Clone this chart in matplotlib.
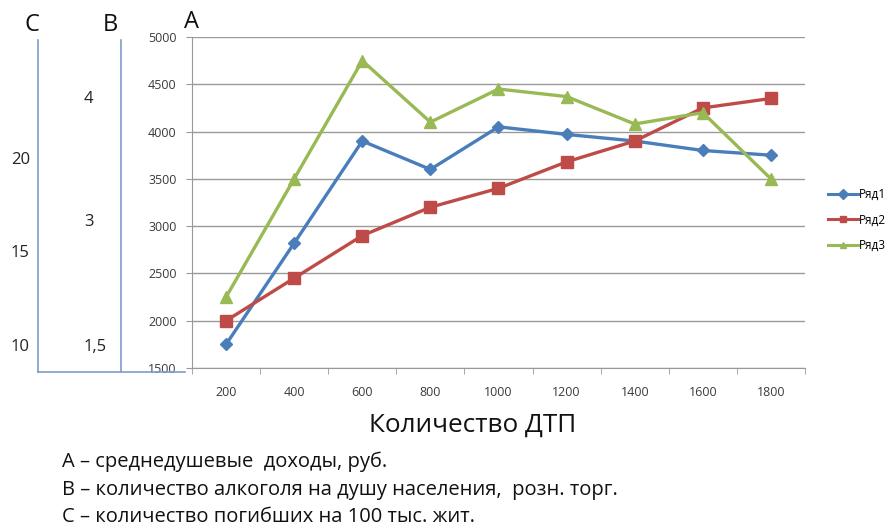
import matplotlib.pyplot as plt
from matplotlib.lines import Line2D

plt.rcParams['font.family'] = ['Open Sans', 'DejaVu Sans']

# data
categories = ['200', '400', '600', '800', '1000', '1200', '1400', '1600', '1800']
series_names = ['Ряд1', 'Ряд2', 'Ряд3']
row1 = [1750, 2820, 3900, 3600, 4050, 3970, 3900, 3800, 3750]
row2 = [2000, 2450, 2900, 3200, 3400, 3680, 3900, 4250, 4350]
row3 = [2250, 3500, 4750, 4100, 4450, 4370, 4080, 4200, 3500]
y_ticks = [1500, 2000, 2500, 3000, 3500, 4000, 4500, 5000]

# extra hand drawn scales B and C (label, height given in A units)
b_ticks = [('4', 4340), ('3', 3040), ('1,5', 1720)]
c_ticks = [('20', 3700), ('15', 2720), ('10', 1720)]

legend_text = [
    'А – среднедушевые  доходы, руб.',
    'В – количество алкоголя на душу населения,  розн. торг.',
    'С – количество погибших на 100 тыс. жит.',
]

W, H = 895, 527
fig = plt.figure(figsize=(W / 100, H / 100), dpi=100)
fig.patch.set_facecolor('white')


def px(x, y):
    return x / W, 1 - y / H


left, top, right, bottom = 192, 37, 805, 368
ax = fig.add_axes([left / W, 1 - bottom / H, (right - left) / W, (bottom - top) / H])

colors = ['#4a7ebb', '#be4b48', '#98b954']
markers = ['D', 's', '^']
msizes = [6, 8, 8]
xs = list(range(len(categories)))
for vals, c, m, ms, name in zip([row1, row2, row3], colors, markers, msizes, series_names):
    ax.plot(xs, vals, color=c, lw=2.4, marker=m, ms=ms, label=name, zorder=3)

ax.set_xlim(-0.5, len(categories) - 0.5)
ax.set_ylim(1500, 5000)
ax.set_yticks(y_ticks)
ax.set_yticklabels([str(v) for v in y_ticks], fontsize=9, color='#3a3a3a')
ax.set_xticks(xs)
ax.set_xticklabels(categories, fontsize=9, color='#3a3a3a')
ax.set_xticks([i + 0.5 for i in range(-1, len(categories))], minor=True)
ax.tick_params(axis='x', which='major', length=0, pad=13)
ax.tick_params(axis='x', which='minor', length=4, color='#999999')
ax.tick_params(axis='y', length=4, color='#999999', pad=7)
ax.grid(axis='y', color='#9a9a9a', lw=1)
ax.set_axisbelow(True)
for s in ['top', 'right']:
    ax.spines[s].set_visible(False)
for s in ['left', 'bottom']:
    ax.spines[s].set_color('#999999')

# legend
handles = [Line2D([], [], color=c, marker=m, lw=2.2, ms=5) for c, m in zip(colors, markers)]
fig.legend(handles, series_names, loc='center left', bbox_to_anchor=px(828, 220),
           frameon=False, fontsize=8.5, handlelength=2.55, handletextpad=0.1,
           labelspacing=1.05, borderaxespad=0, borderpad=0)

# hand drawn axes B and C
line_col = '#7f9bc9'
trans = ax.get_yaxis_transform()
fig.add_artist(Line2D([38 / W, 38 / W], [1 - 40 / H, 1 - 372 / H], color=line_col, lw=1.2))
fig.add_artist(Line2D([121 / W, 121 / W], [1 - 40 / H, 1 - 372 / H], color=line_col, lw=1.2))
fig.add_artist(Line2D([38 / W, 185 / W], [1 - 372 / H, 1 - 372 / H], color=line_col, lw=1.2))

b_x = (84 - left) / (right - left)
c_x = (11 - left) / (right - left)
for lbl, v in b_ticks:
    ax.text(b_x, v, lbl, transform=trans, ha='left', va='center', fontsize=12, color='#222222')
for lbl, v in c_ticks:
    ax.text(c_x, v, lbl, transform=trans, ha='left', va='center', fontsize=12, color='#222222')

fig.text(*px(32, 25), 'С', ha='center', va='center', fontsize=17, color='#111111')
fig.text(*px(110, 25), 'В', ha='center', va='center', fontsize=17, color='#111111')
fig.text(*px(192, 22), 'А', ha='center', va='center', fontsize=17, color='#111111')

fig.text(*px(473, 425), 'Количество ДТП', ha='center', va='center', fontsize=18.8, color='#111111')
for i, t in enumerate(legend_text):
    fig.text(*px(62, 462 + i * 27.5), t, ha='left', va='center', fontsize=14.5, color='#111111')

fig.savefig('out.png', dpi=100, facecolor='white')
